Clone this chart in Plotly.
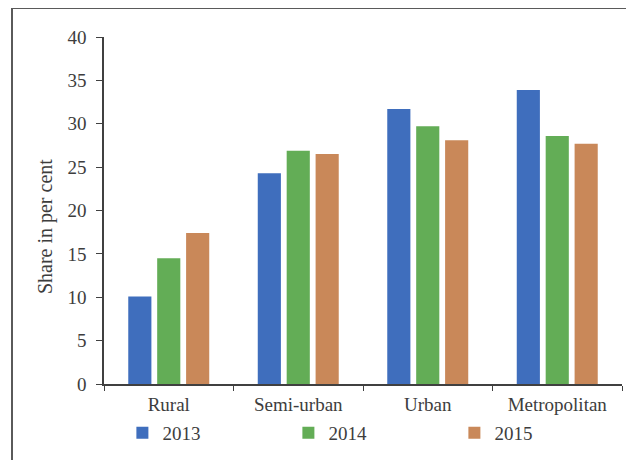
"""Share in per cent by population group, 2013-2015 (grouped bars)."""
import plotly.graph_objects as go

categories = ["Rural", "Semi-urban", "Urban", "Metropolitan"]
years = ["2013", "2014", "2015"]
share_2013 = [10.1, 24.3, 31.7, 33.9]
share_2014 = [14.5, 26.9, 29.7, 28.6]
share_2015 = [17.4, 26.5, 28.1, 27.7]
y_ticks = [0, 5, 10, 15, 20, 25, 30, 35, 40]

COLORS = ["#3f6ebd", "#63ad56", "#c98859"]
TEXT = "#3d3d3d"
FONT = "Liberation Serif"

fig = go.Figure()
for year, vals, color in zip(years, [share_2013, share_2014, share_2015], COLORS):
    fig.add_trace(
        go.Bar(
            x=categories,
            y=vals,
            name=year,
            marker=dict(color=color, line=dict(width=0)),
        )
    )

# page body adds ~8px offset, so margins are trimmed by that much
fig.update_layout(
    width=634,
    height=460,
    margin=dict(l=96, r=20, t=29, b=84, autoexpand=False),
    paper_bgcolor="white",
    plot_bgcolor="white",
    barmode="group",
    bargap=0.33,
    bargroupgap=0.2,
    font=dict(family=FONT, size=19, color=TEXT),
    showlegend=True,
    legend=dict(
        orientation="h",
        x=0.0355,
        xanchor="left",
        y=-0.141,
        yanchor="middle",
        entrywidth=121,
        entrywidthmode="pixels",
        font=dict(family=FONT, size=19, color=TEXT),
        bgcolor="rgba(0,0,0,0)",
    ),
    shapes=[
        # outer frame (cropped at right and bottom in the source)
        dict(type="line", xref="paper", yref="paper", x0=-0.1776, x1=1.2,
             y0=1.0836, y1=1.0836, line=dict(color="#5a5a5a", width=2)),
        dict(type="line", xref="paper", yref="paper", x0=-0.1776, x1=-0.1776,
             y0=1.0836, y1=-0.3, line=dict(color="#5a5a5a", width=2)),
    ],
    # y title sits a little below the plot centre in the source
    annotations=[
        dict(text="Share in per cent", xref="paper", yref="paper", x=-0.1139, y=0.455,
             textangle=-90, showarrow=False, xanchor="center", yanchor="middle",
             font=dict(family=FONT, size=20, color=TEXT)),
    ],
)

fig.update_xaxes(
    showline=True,
    linecolor="#404040",
    linewidth=1.5,
    ticks="outside",
    tickson="boundaries",
    ticklen=5,
    tickcolor="#404040",
    showgrid=False,
    ticklabelstandoff=2,
    tickfont=dict(family=FONT, size=19, color=TEXT),
)
fig.update_yaxes(
    range=[0, 40],
    tickvals=y_ticks,
    showline=True,
    linecolor="#404040",
    linewidth=1.5,
    ticks="outside",
    ticklen=6,
    tickcolor="#404040",
    showgrid=False,
    zeroline=False,
    ticklabelstandoff=6,
    tickfont=dict(family=FONT, size=19, color=TEXT),
)

fig.write_html("out.html")
